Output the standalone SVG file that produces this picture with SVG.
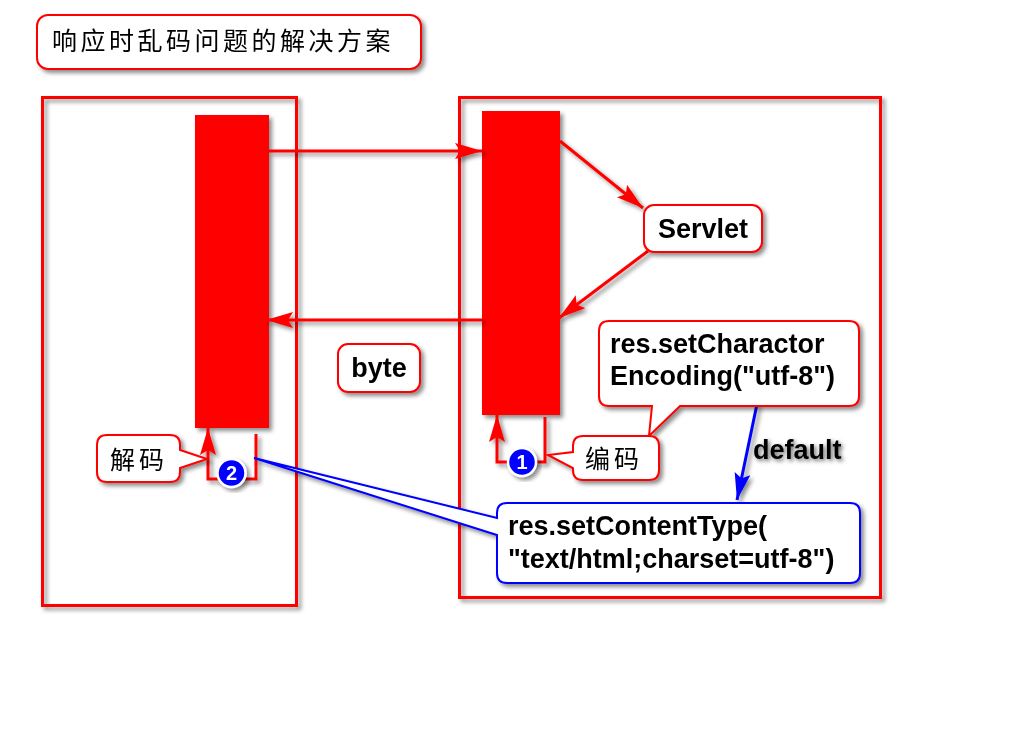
<svg xmlns="http://www.w3.org/2000/svg" width="1024" height="738" viewBox="0 0 1024 738">
<defs>
<filter id="sh" x="-20%" y="-20%" width="140%" height="140%">
<feDropShadow dx="3" dy="3" stdDeviation="2" flood-color="#000" flood-opacity="0.45"/>
</filter>
<filter id="tsh" x="-20%" y="-30%" width="140%" height="160%">
<feDropShadow dx="2" dy="2" stdDeviation="2" flood-color="#000" flood-opacity="0.6"/>
</filter>
<marker id="ar" markerUnits="userSpaceOnUse" markerWidth="30" markerHeight="18" refX="27" refY="8" orient="auto">
<path d="M0,0 L27,8 L0,16 L5,8 z" fill="#ff0000"/>
</marker>
<marker id="ab" markerUnits="userSpaceOnUse" markerWidth="30" markerHeight="18" refX="27" refY="8" orient="auto">
<path d="M0,0 L27,8 L0,16 L5,8 z" fill="#0000ff"/>
</marker>
</defs>
<style>
.frame{fill:none;stroke:#ff0000;stroke-width:3}
.bar{fill:#ff0000}
.con{fill:none;stroke:#ff0000;stroke-width:3}
.bcon{fill:none;stroke:#0000ff;stroke-width:3}
.box{fill:#fff;stroke:#ff0000;stroke-width:2}
.bbox{fill:#fff;stroke:#0000ff;stroke-width:2}
.en{font-family:"Liberation Sans",Arial,sans-serif;font-weight:bold;font-size:27px;fill:#000}
.cn{font-family:"Noto Sans CJK SC",sans-serif;font-size:25px;fill:#000}
.badge{fill:#0000ff;stroke:#fff;stroke-width:2.5}
.bt{font-family:"Liberation Sans",Arial,sans-serif;font-weight:bold;font-size:20px;fill:#fff}
</style>
<rect width="1024" height="738" fill="#fff"/>

<g id="title" filter="url(#sh)">
<rect class="box" x="37" y="15" width="384" height="54" rx="11"/>
<text class="cn" x="52" y="50" font-size="26" letter-spacing="3.5">响应时乱码问题的解决方案</text>
</g>

<g id="client-frame" filter="url(#sh)"><rect class="frame" x="42.5" y="97.5" width="254" height="508"/></g>
<g id="server-frame" filter="url(#sh)"><rect class="frame" x="459.5" y="97.5" width="421" height="500"/></g>

<g id="client-bar" filter="url(#sh)"><rect class="bar" x="195" y="115" width="74" height="313"/></g>
<g id="server-bar" filter="url(#sh)"><rect class="bar" x="482" y="111" width="78" height="304"/></g>

<g id="connectors" filter="url(#sh)">
<line class="con" x1="269" y1="151" x2="482" y2="151" marker-end="url(#ar)"/>
<line class="con" x1="482" y1="320" x2="266" y2="320" marker-end="url(#ar)"/>
<line class="con" x1="560" y1="141" x2="643" y2="208" marker-end="url(#ar)"/>
<line class="con" x1="648" y1="251" x2="559" y2="318" marker-end="url(#ar)"/>
<path class="con" d="M545,417 L545,462 L497,462 L497,415" marker-end="url(#ar)"/>
<path class="con" d="M256,434 L256,479 L208,479 L208,428" marker-end="url(#ar)"/>
<line class="bcon" x1="757" y1="404" x2="737" y2="500" marker-end="url(#ab)"/>
</g>

<g id="badge1" filter="url(#sh)">
<circle class="badge" cx="522" cy="462" r="14"/>
<text class="bt" x="522" y="469" text-anchor="middle">1</text>
</g>
<g id="badge2" filter="url(#sh)">
<circle class="badge" cx="231.5" cy="473" r="14"/>
<text class="bt" x="231.5" y="480" text-anchor="middle">2</text>
</g>

<g id="servlet" filter="url(#sh)">
<rect class="box" x="644" y="205" width="118" height="47" rx="10"/>
<text class="en" x="703" y="238" text-anchor="middle">Servlet</text>
</g>

<g id="byte" filter="url(#sh)">
<rect class="box" x="338" y="344" width="82" height="48" rx="10"/>
<text class="en" x="379" y="377" text-anchor="middle" font-size="25">byte</text>
</g>

<g id="set-charactor" filter="url(#sh)">
<path class="box" d="M609,321 H849 Q859,321 859,331 V396 Q859,406 849,406 H680 L649,436 L652,406 H609 Q599,406 599,396 V331 Q599,321 609,321 Z"/>
<text class="en" x="610" y="353">res.setCharactor</text>
<text class="en" x="610" y="385">Encoding("utf-8")</text>
</g>

<g id="encode" filter="url(#sh)">
<path class="box" d="M583,436 H649 Q659,436 659,446 V470 Q659,480 649,480 H583 Q573,480 573,470 V468 L548,455 L573,452 V446 Q573,436 583,436 Z"/>
<text class="cn" x="585" y="468" letter-spacing="4">编码</text>
</g>

<g id="decode" filter="url(#sh)">
<path class="box" d="M107,435 H170 Q180,435 180,445 V450 L207,459 L180,468 V472 Q180,482 170,482 H107 Q97,482 97,472 V445 Q97,435 107,435 Z"/>
<text class="cn" x="110" y="469" letter-spacing="4">解码</text>
</g>

<g id="default-label" filter="url(#tsh)">
<text class="en" x="753" y="459" font-size="26">default</text>
</g>

<g id="set-content-type" filter="url(#sh)">
<path class="bbox" d="M507,503 H850 Q860,503 860,513 V573 Q860,583 850,583 H507 Q497,583 497,573 V535 L254,458 L497,518 V513 Q497,503 507,503 Z"/>
<text class="en" x="508" y="535">res.setContentType(</text>
<text class="en" x="508" y="568">"text/html;charset=utf-8")</text>
</g>
</svg>
